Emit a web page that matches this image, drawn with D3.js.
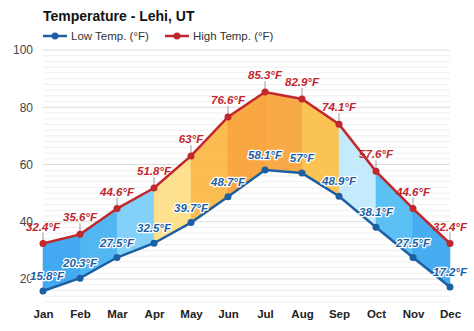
<!DOCTYPE html>
<html>
<head>
<meta charset="utf-8">
<script src="https://cdn.jsdelivr.net/npm/d3@7"></script>
<style>
  html, body { margin: 0; padding: 0; background: #fff; }
  svg { display: block; font-family: "Liberation Sans", Arial, Helvetica, sans-serif; }
</style>
</head>
<body>
<svg id="chart" width="474" height="331"></svg>
<script>
// Monthly average temperatures for Lehi, UT (°F)
const months = ["Jan", "Feb", "Mar", "Apr", "May", "Jun", "Jul", "Aug", "Sep", "Oct", "Nov", "Dec"];
const lowTemps = [15.8, 20.3, 27.5, 32.5, 39.7, 48.7, 58.1, 57, 48.9, 38.1, 27.5, 17.2];
const highTemps = [32.4, 35.6, 44.6, 51.8, 63, 76.6, 85.3, 82.9, 74.1, 57.6, 44.6, 32.4];
const yTicks = [20, 40, 60, 80, 100];
// Fill for each span between consecutive months
const bandColors = ["#35a3ef", "#45b0f2", "#79cdf7", "#fddf86", "#fbb845", "#f8a035",
                    "#f9a43a", "#fbbd47", "#bfeafb", "#4fbcf4", "#3aa6ef"];

const lowColor = "#1d5fa3";
const highColor = "#c1272d";

const svg = d3.select("#chart");

const x = d3.scalePoint().domain(months).range([43, 450]);
const y = d3.scaleLinear().domain([20, 100]).range([279, 50]);

// Grid: light lines every 2°, stronger at labelled ticks
const gridVals = d3.range(12, 101, 2);
svg.append("g").selectAll("line")
  .data(gridVals)
  .join("line")
  .attr("x1", x("Jan")).attr("x2", x("Dec"))
  .attr("y1", d => y(d)).attr("y2", d => y(d))
  .attr("stroke", d => yTicks.includes(d) ? "#dcdcdc" : "#efefef")
  .attr("stroke-width", 1);

// Y axis labels
const yAxis = d3.axisLeft(y).tickValues(yTicks).tickSize(0).tickPadding(0);
const gy = svg.append("g").attr("transform", "translate(33,0)").call(yAxis);
gy.select(".domain").remove();
gy.selectAll("text")
  .attr("font-size", 12).attr("fill", "#444")
  .attr("font-family", "\"Liberation Sans\", Arial, sans-serif");

// X axis labels
const xAxis = d3.axisBottom(x).tickSize(0).tickPadding(0);
const gx = svg.append("g").attr("transform", "translate(0,310)").call(xAxis);
gx.select(".domain").remove();
gx.selectAll("text")
  .attr("font-size", 11.5).attr("font-weight", "bold").attr("fill", "#222")
  .attr("font-family", "\"Liberation Sans\", Arial, sans-serif");

// Coloured bands between low and high for each month interval
const bands = d3.range(months.length - 1).map(i => ({
  pts: [
    [x(months[i]), y(highTemps[i])],
    [x(months[i + 1]), y(highTemps[i + 1])],
    [x(months[i + 1]), y(lowTemps[i + 1])],
    [x(months[i]), y(lowTemps[i])]
  ],
  color: bandColors[i]
}));
svg.append("g").selectAll("path")
  .data(bands)
  .join("path")
  .attr("d", d => "M" + d.pts.map(p => p.join(",")).join("L") + "Z")
  .attr("fill", d => d.color)
  .attr("fill-opacity", 0.93)
  .attr("stroke", d => d.color)
  .attr("stroke-width", 0.5);

// Stems above high markers
svg.append("g").selectAll("line")
  .data(highTemps)
  .join("line")
  .attr("x1", (d, i) => x(months[i])).attr("x2", (d, i) => x(months[i]))
  .attr("y1", d => y(d)).attr("y2", d => y(d) - 11)
  .attr("stroke", "#9a9a9a").attr("stroke-width", 1);

// Lines
const line = d3.line().x((d, i) => x(months[i])).y(d => y(d));
svg.append("path").datum(lowTemps).attr("d", line)
  .attr("fill", "none").attr("stroke", lowColor).attr("stroke-width", 2.5);
svg.append("path").datum(highTemps).attr("d", line)
  .attr("fill", "none").attr("stroke", highColor).attr("stroke-width", 2.5);

// Markers
svg.append("g").selectAll("circle")
  .data(lowTemps).join("circle")
  .attr("cx", (d, i) => x(months[i])).attr("cy", d => y(d)).attr("r", 3.5)
  .attr("fill", lowColor);
svg.append("g").selectAll("circle")
  .data(highTemps).join("circle")
  .attr("cx", (d, i) => x(months[i])).attr("cy", d => y(d)).attr("r", 3.5)
  .attr("fill", highColor);

// Value labels
const fmt = v => v + "°F";
svg.append("g").selectAll("text")
  .data(highTemps).join("text")
  .attr("x", (d, i) => x(months[i])).attr("y", d => y(d) - 13)
  .attr("text-anchor", "middle")
  .attr("font-size", 11.5).attr("font-weight", "bold").attr("font-style", "italic")
  .attr("fill", highColor)
  .text(fmt);

svg.append("g").selectAll("text")
  .data(lowTemps).join("text")
  .attr("x", (d, i) => x(months[i]) + (i === 0 ? 4 : 0)).attr("y", d => y(d) - 11)
  .attr("text-anchor", "middle")
  .attr("font-size", 11.5).attr("font-weight", "bold").attr("font-style", "italic")
  .attr("fill", lowColor)
  .attr("stroke", "#fff").attr("stroke-width", 2.5).attr("paint-order", "stroke")
  .attr("stroke-linejoin", "round")
  .text(fmt);

// Title
svg.append("text")
  .attr("x", 43).attr("y", 21)
  .attr("font-size", 14).attr("font-weight", "bold").attr("fill", "#111")
  .text("Temperature - Lehi, UT");

// Legend
const legend = [
  { label: "Low Temp. (°F)", color: lowColor, x: 43 },
  { label: "High Temp. (°F)", color: highColor, x: 165 }
];
const lg = svg.append("g").selectAll("g").data(legend).join("g")
  .attr("transform", d => `translate(${d.x},36)`);
lg.append("line").attr("x1", 0).attr("x2", 24).attr("y1", 0).attr("y2", 0)
  .attr("stroke", d => d.color).attr("stroke-width", 2.5);
lg.append("circle").attr("cx", 12).attr("cy", 0).attr("r", 3.5).attr("fill", d => d.color);
lg.append("text").attr("x", 28).attr("y", 4)
  .attr("font-size", 11.5).attr("fill", "#333")
  .text(d => d.label);
</script>
</body>
</html>
